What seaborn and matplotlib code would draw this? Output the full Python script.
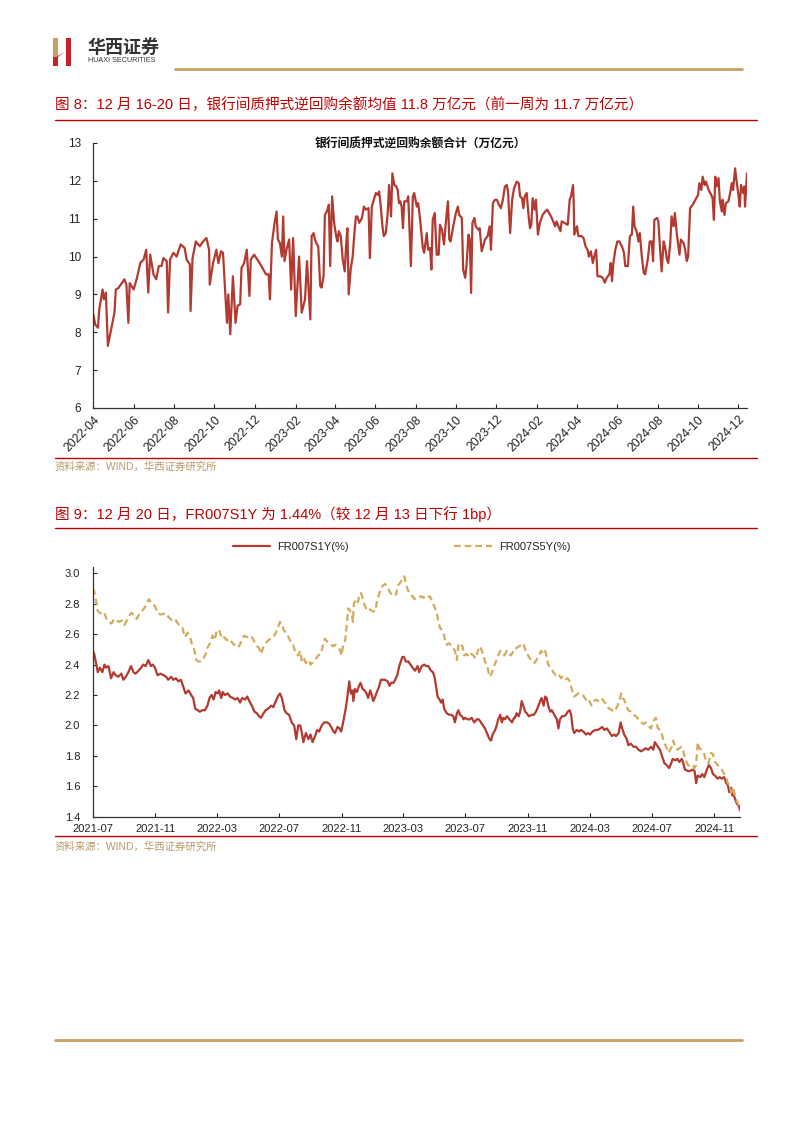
import matplotlib
matplotlib.use("Agg")
import matplotlib.pyplot as plt
import matplotlib.dates as mdates
from matplotlib.patches import Polygon, Rectangle
from matplotlib.lines import Line2D
import seaborn as sns
import pandas as pd

# 图8：银行间质押式逆回购余额合计（万亿元），横轴为距 2022-04-01 的天数
repo_start = "2022-04-01"
repo_day = [
    0, 3, 7, 9, 14, 16, 19, 22, 32, 34, 38, 43, 47, 50, 53, 55, 61, 66, 71, 76,
    80, 83, 86, 91, 95, 99, 103, 106, 111, 113, 116, 121, 126, 132, 138, 141, 146, 147, 150, 155,
    161, 166, 171, 175, 176, 181, 186, 189, 193, 196, 198, 202, 204, 207, 211, 215, 218, 222, 224, 228,
    232, 236, 238, 243, 248, 254, 261, 265, 267, 270, 274, 277, 279, 282, 285, 287, 289, 292, 296, 299,
    302, 306, 311, 315, 320, 323, 328,
    330, 333, 335, 338, 340, 343, 345, 348, 350, 353, 356, 358, 361, 364, 367, 369, 371, 374, 377, 380,
    382, 384, 386, 389, 392, 395, 397, 399, 402, 406, 409, 412, 416, 418, 421, 424, 427, 430, 432, 434,
    437, 439, 442, 445, 447, 450, 452, 455, 458, 460, 462, 464, 466, 468, 470, 474, 476, 480, 483, 485,
    489, 491, 494, 498, 500, 504, 506, 509, 511, 513, 516, 519, 522, 524, 527, 530, 533, 536, 538, 540,
    544, 548, 551, 553, 557, 559, 562, 564, 567, 569, 571, 573, 576, 578, 582, 584, 587, 590, 592, 596,
    599, 601, 604, 607, 610, 613, 616, 619, 622, 625, 627, 630, 633, 636,
    640, 643, 645, 648, 650, 652, 655, 658, 660, 662, 664, 667, 669, 672, 675, 679, 683, 686, 689, 693,
    695, 698, 700, 703, 706, 708, 712, 717, 720, 722, 725, 726, 727, 731, 733, 738, 741, 744, 747, 749,
    752, 755, 757, 760, 762, 766, 770, 773, 776, 780, 782, 784, 786, 789, 792, 795, 799, 802, 804, 808,
    811, 814, 816, 818, 821, 824, 826, 829, 832, 834, 838, 841, 844, 846, 848, 852, 854, 857, 859, 862,
    864, 867, 869, 872, 874, 877, 879, 882, 884, 886, 888, 892, 894, 897, 899, 902, 906, 910, 914, 916,
    919, 921, 924, 926, 930, 934, 936, 938, 940, 942, 945, 947, 950, 951, 954, 956, 960, 962, 965, 967,
    970, 972, 975, 977, 979, 982, 984, 985, 988,
]
repo_val = [
    8.47, 8.2, 8.12, 8.6, 9.13, 8.87, 9.05, 7.64, 8.52, 9.13, 9.17, 9.3, 9.4, 9.26, 8.25, 9.3, 9.13, 9.44, 9.83, 9.92,
    10.18, 9.05, 10.05, 9.53, 9.4, 9.75, 9.75, 9.96, 9.88, 8.52, 9.92, 10.1, 10.0, 10.32, 10.23, 9.92, 9.79, 8.56, 9.96, 10.4,
    10.27, 10.4, 10.49, 10.18, 9.26, 9.83, 10.18, 9.83, 10.14, 10.1, 9.48, 8.25, 9.0, 7.95, 9.48, 8.25, 8.7, 8.74, 9.7, 9.83,
    10.18, 8.96, 9.92, 10.05, 9.92, 9.75, 9.53, 9.53, 8.87, 10.36, 10.89, 11.19, 10.45, 10.36, 10.0, 11.06, 9.88, 10.18, 10.45, 9.13,
    10.49, 8.43, 10.0, 8.52, 8.87, 9.88, 8.34,
    10.54, 10.62, 10.45, 10.32, 10.27, 9.22, 9.18, 9.48, 11.1, 11.19, 11.37, 9.75, 11.59, 10.89, 10.54, 10.4, 10.67, 10.54, 9.92, 9.61,
    10.27, 10.75, 9.0, 9.66, 10.0, 10.71, 11.06, 11.06, 10.89, 11.02, 11.32, 11.24, 11.28, 9.96, 11.32, 11.5, 11.68, 11.63, 11.72, 11.41,
    10.8, 10.54, 10.62, 11.15, 11.89, 11.06, 12.2, 11.89, 11.85, 11.76, 11.41, 11.46, 11.32, 10.75, 11.46, 11.46, 11.59, 9.75, 11.59, 11.68,
    11.32, 11.41, 10.97, 10.23, 10.1, 10.62, 10.18, 10.23, 9.66, 10.97, 11.15, 10.05, 10.05, 10.84, 10.71, 10.32, 10.93, 11.46, 10.45, 10.4,
    10.8, 11.15, 11.32, 11.1, 11.02, 9.66, 9.44, 9.75, 10.58, 10.45, 9.04, 10.89, 11.02, 10.8, 10.71, 10.75, 10.14, 10.32, 10.45, 10.54,
    10.8, 10.18, 11.41, 11.5, 11.5, 11.37, 11.28, 11.5, 11.85, 11.89, 11.68, 10.62, 11.5, 11.81,
    11.98, 11.94, 11.59, 11.54, 11.28, 11.59, 11.68, 11.06, 10.75, 10.84, 11.54, 11.24, 11.5, 10.58, 10.89, 11.1, 11.19, 11.24, 11.15, 11.02,
    10.93, 10.8, 10.93, 10.8, 10.67, 10.93, 10.89, 10.84, 11.5, 11.59, 11.89, 11.5, 10.58, 10.8, 10.54, 10.54, 10.49, 10.27, 10.18, 10.0,
    10.14, 9.83, 10.0, 10.18, 9.48, 9.48, 9.44, 9.31, 9.44, 9.53, 9.83, 9.35, 9.83, 10.18, 10.4, 10.4, 10.27, 10.1, 9.75, 9.75,
    10.54, 10.58, 11.32, 10.8, 10.67, 10.4, 10.62, 10.0, 9.57, 9.53, 9.92, 10.4, 10.4, 9.88, 10.97, 11.02, 10.93, 10.1, 9.61, 10.4,
    10.27, 9.92, 9.83, 10.36, 11.06, 10.8, 11.15, 10.58, 10.32, 10.05, 10.45, 10.36, 10.23, 9.88, 10.0, 11.28, 11.37, 11.5, 11.63, 11.94,
    11.76, 12.11, 11.89, 11.98, 11.76, 11.63, 11.54, 10.97, 12.11, 11.85, 12.07, 11.46, 11.19, 11.5, 11.1, 11.41, 11.46, 11.63, 11.94, 11.76,
    12.33, 12.03, 11.63, 11.32, 11.89, 11.68, 11.85, 11.32, 12.2,
]

# 图9：FR007 互换利率（%），横轴为距 2021-07-01 的天数
fr_start = "2021-07-01"
s1y_day = [
    0, 3, 6, 10, 14, 19, 23, 26, 31, 36, 41, 45, 50, 56, 60, 65, 70, 75, 80, 84,
    90, 95, 99, 104, 109, 114, 118, 122, 127, 133, 139, 144, 148, 154, 158, 163, 168, 173, 178, 182,
    188, 193, 197, 201, 206, 210, 215, 220, 225, 229, 233, 237, 241, 245, 248, 252, 255, 259, 265, 269,
    275, 279, 284, 289, 293, 299, 303, 307, 312, 317, 322, 326, 330, 335, 339, 344, 350, 354, 359, 363,
    367, 371, 376, 380, 385, 390, 395, 399, 403,
    407, 410, 413, 418, 423, 427, 431, 436, 440, 444, 449, 454, 459, 464, 469, 472, 475, 480, 484, 487,
    491, 496, 499, 503, 506, 509, 511, 514, 518, 522, 525, 529, 533, 537, 540, 544, 547, 550, 554, 557,
    561, 565, 569, 573, 578, 582, 585, 590, 593, 597, 601, 604, 607, 610, 614, 619, 623, 627, 632, 637,
    640, 645, 650, 654, 658, 663, 667, 670, 673, 676, 680, 683, 686, 689, 694, 699, 703, 707, 710, 714,
    717, 720, 724, 727, 730, 735, 739, 743, 748, 753, 757, 761, 765, 769, 774, 778, 781, 784, 789, 792,
    795, 799, 802, 805, 808, 812, 817, 822, 826,
    828, 831, 835, 838, 841, 844, 848, 851, 855, 861, 865, 869, 874, 877, 880, 884, 887, 890, 893, 897,
    900, 905, 910, 913, 916, 920, 924, 928, 931, 935, 938, 941, 944, 949, 954, 957, 962, 967, 971, 975,
    980, 985, 990, 995, 999, 1003, 1008, 1012, 1018, 1022, 1026, 1031, 1035, 1038, 1042, 1047, 1050, 1055, 1060, 1065,
    1070, 1075, 1080, 1084, 1089, 1095, 1099, 1102, 1108, 1112, 1117, 1121, 1125, 1130, 1134, 1137, 1142, 1146, 1150, 1155,
    1158, 1161, 1167, 1171, 1176, 1180, 1183, 1186, 1191, 1195, 1199, 1204, 1208, 1212, 1216, 1220, 1225, 1229, 1233, 1238,
    1242, 1245, 1248, 1252, 1254, 1257, 1261, 1264, 1267, 1269,
]
s1y_val = [
    2.49, 2.47, 2.42, 2.35, 2.38, 2.35, 2.40, 2.38, 2.39, 2.31, 2.35, 2.33, 2.32, 2.34, 2.30, 2.32, 2.35, 2.39, 2.35, 2.34,
    2.36, 2.38, 2.40, 2.39, 2.43, 2.39, 2.40, 2.38, 2.33, 2.34, 2.33, 2.32, 2.30, 2.32, 2.30, 2.31, 2.29, 2.30, 2.25, 2.21,
    2.23, 2.20, 2.18, 2.11, 2.10, 2.09, 2.10, 2.10, 2.13, 2.18, 2.20, 2.17, 2.22, 2.21, 2.23, 2.18, 2.22, 2.20, 2.21, 2.19,
    2.18, 2.17, 2.18, 2.15, 2.18, 2.17, 2.19, 2.16, 2.13, 2.09, 2.08, 2.06, 2.05, 2.08, 2.10, 2.11, 2.13, 2.12, 2.16, 2.19,
    2.21, 2.18, 2.10, 2.08, 2.07, 2.02, 2.00, 1.91, 2.00,
    2.00, 1.95, 1.89, 1.95, 1.91, 1.94, 1.89, 1.93, 1.97, 1.96, 2.00, 2.02, 2.02, 2.01, 1.98, 1.96, 1.95, 1.99, 1.98, 1.96,
    2.02, 2.11, 2.18, 2.29, 2.21, 2.23, 2.16, 2.24, 2.22, 2.26, 2.28, 2.24, 2.23, 2.21, 2.18, 2.23, 2.20, 2.16, 2.19, 2.22,
    2.25, 2.30, 2.30, 2.30, 2.29, 2.26, 2.28, 2.28, 2.30, 2.33, 2.39, 2.42, 2.45, 2.45, 2.42, 2.42, 2.40, 2.38, 2.36, 2.39,
    2.35, 2.39, 2.40, 2.39, 2.39, 2.36, 2.35, 2.32, 2.26, 2.19, 2.17, 2.15, 2.17, 2.11, 2.08, 2.07, 2.07, 2.06, 2.02, 2.08,
    2.10, 2.07, 2.06, 2.04, 2.05, 2.04, 2.04, 2.05, 2.02, 2.04, 2.04, 2.02, 2.00, 1.98, 1.94, 1.91, 1.90, 1.94, 1.97, 2.00,
    2.04, 2.07, 2.02, 2.05, 2.04, 2.06, 2.04, 2.02, 2.05,
    2.05, 2.08, 2.06, 2.09, 2.16, 2.13, 2.09, 2.08, 2.06, 2.07, 2.07, 2.09, 2.13, 2.16, 2.18, 2.13, 2.19, 2.18, 2.13, 2.09,
    2.10, 2.07, 2.04, 1.98, 2.04, 2.06, 2.06, 2.07, 2.09, 2.10, 2.07, 1.98, 1.95, 1.97, 1.96, 1.97, 1.96, 1.94, 1.95, 1.94,
    1.96, 1.97, 1.97, 1.98, 1.99, 1.97, 1.98, 1.96, 1.93, 1.94, 1.93, 1.95, 2.02, 1.98, 1.94, 1.91, 1.87, 1.88, 1.86, 1.86,
    1.84, 1.83, 1.84, 1.85, 1.84, 1.86, 1.84, 1.89, 1.86, 1.84, 1.79, 1.75, 1.74, 1.72, 1.75, 1.78, 1.77, 1.78, 1.76, 1.78,
    1.75, 1.71, 1.70, 1.70, 1.71, 1.70, 1.62, 1.67, 1.66, 1.68, 1.66, 1.71, 1.74, 1.72, 1.68, 1.67, 1.65, 1.66, 1.65, 1.66,
    1.62, 1.61, 1.56, 1.59, 1.54, 1.54, 1.50, 1.48, 1.47, 1.44,
]
s5y_day = [
    0, 3, 7, 10, 14, 19, 23, 27, 32, 37, 42, 47, 52, 57, 62, 67, 71, 76, 82, 86,
    91, 96, 101, 106, 110, 114, 119, 124, 127, 132, 137, 142, 147, 152, 156, 161, 167, 171, 176, 181,
    186, 191, 194, 199, 203, 207, 212, 217, 222, 225, 230, 235, 239, 243, 248, 253, 258, 263, 267, 272,
    277, 282, 287, 292, 297, 302, 306, 312, 317, 322, 326, 330, 335, 339, 344, 350, 354, 359, 363, 367,
    371, 374, 378, 384, 389, 393, 398, 403,
    407, 410, 414, 418, 423, 427, 433, 438, 442, 447, 451, 455, 460, 465, 471, 475, 480, 484, 488, 491,
    495, 498, 501, 505, 508, 510, 512, 516, 520, 523, 526, 529, 533, 536, 539, 544, 549, 554, 557, 561,
    565, 569, 573, 578, 582, 586, 591, 595, 598, 601, 605, 608, 611, 614, 618, 622, 627, 631, 635, 640,
    644, 648, 653, 657, 661, 666, 670, 675, 678, 681, 684, 688, 691, 694, 699, 703, 707, 710, 714, 717,
    720, 725, 728, 733, 738, 742, 746, 751, 755, 759, 763, 766, 769, 773, 776, 779, 782, 786, 789, 792,
    795, 799, 803, 807, 812, 816, 820, 825,
    828, 831, 836, 840, 844, 848, 852, 857, 862, 866, 870, 875, 879, 884, 887, 890, 893, 898, 903, 908,
    913, 918, 921, 926, 931, 935, 939, 944, 948, 952, 957, 961, 965, 970, 974, 978, 983, 987, 991, 996,
    1000, 1004, 1009, 1013, 1018, 1022, 1026, 1029, 1033, 1036, 1038, 1042, 1046, 1050, 1055, 1060, 1065, 1070, 1075, 1080,
    1084, 1089, 1094, 1098, 1101, 1104, 1108, 1112, 1116, 1120, 1124, 1129, 1132, 1135, 1138, 1142, 1146, 1150, 1155, 1158,
    1161, 1167, 1171, 1176, 1180, 1183, 1186, 1189, 1194, 1199, 1202, 1207, 1212, 1216, 1220, 1225, 1229, 1233, 1238, 1242,
    1245, 1248, 1252, 1256, 1259, 1263, 1266, 1269,
]
s5y_val = [
    2.90, 2.88, 2.81, 2.75, 2.74, 2.73, 2.74, 2.70, 2.68, 2.67, 2.70, 2.69, 2.68, 2.69, 2.66, 2.69, 2.72, 2.74, 2.72, 2.70,
    2.73, 2.75, 2.77, 2.80, 2.83, 2.81, 2.80, 2.77, 2.74, 2.73, 2.73, 2.74, 2.72, 2.70, 2.69, 2.70, 2.67, 2.65, 2.64, 2.58,
    2.61, 2.58, 2.54, 2.50, 2.43, 2.42, 2.42, 2.44, 2.47, 2.51, 2.54, 2.59, 2.56, 2.62, 2.63, 2.57, 2.58, 2.56, 2.57, 2.55,
    2.53, 2.54, 2.52, 2.56, 2.59, 2.58, 2.59, 2.58, 2.55, 2.52, 2.51, 2.47, 2.52, 2.54, 2.56, 2.57, 2.58, 2.61, 2.64, 2.68,
    2.67, 2.63, 2.61, 2.58, 2.54, 2.53, 2.47, 2.46,
    2.49, 2.42, 2.44, 2.41, 2.43, 2.40, 2.42, 2.44, 2.46, 2.47, 2.52, 2.57, 2.55, 2.54, 2.52, 2.53, 2.52, 2.50, 2.46, 2.53,
    2.56, 2.66, 2.77, 2.75, 2.74, 2.68, 2.80, 2.83, 2.81, 2.86, 2.87, 2.84, 2.79, 2.77, 2.78, 2.76, 2.75, 2.75, 2.81, 2.86,
    2.90, 2.92, 2.93, 2.91, 2.88, 2.86, 2.87, 2.86, 2.92, 2.93, 2.95, 2.97, 2.98, 2.93, 2.89, 2.86, 2.85, 2.83, 2.84, 2.84,
    2.85, 2.84, 2.85, 2.84, 2.85, 2.81, 2.78, 2.73, 2.68, 2.64, 2.63, 2.61, 2.55, 2.53, 2.54, 2.52, 2.51, 2.49, 2.43, 2.54,
    2.53, 2.52, 2.46, 2.47, 2.45, 2.47, 2.46, 2.44, 2.49, 2.52, 2.49, 2.46, 2.42, 2.40, 2.35, 2.32, 2.34, 2.38, 2.41, 2.43,
    2.46, 2.49, 2.47, 2.46, 2.49, 2.47, 2.46, 2.49,
    2.49, 2.51, 2.52, 2.53, 2.54, 2.50, 2.47, 2.44, 2.42, 2.41, 2.43, 2.46, 2.49, 2.47, 2.49, 2.45, 2.40, 2.38, 2.35, 2.33,
    2.34, 2.31, 2.32, 2.30, 2.31, 2.29, 2.24, 2.19, 2.20, 2.21, 2.21, 2.20, 2.18, 2.15, 2.16, 2.13, 2.16, 2.17, 2.16, 2.18,
    2.17, 2.15, 2.12, 2.11, 2.10, 2.09, 2.11, 2.13, 2.17, 2.21, 2.18, 2.17, 2.13, 2.10, 2.09, 2.07, 2.06, 2.04, 2.02, 2.01,
    2.02, 2.00, 1.98, 2.01, 2.04, 2.05, 1.98, 1.97, 1.94, 1.89, 1.86, 1.82, 1.84, 1.86, 1.90, 1.86, 1.84, 1.85, 1.86, 1.83,
    1.78, 1.74, 1.73, 1.74, 1.72, 1.74, 1.89, 1.85, 1.84, 1.81, 1.77, 1.75, 1.82, 1.81, 1.76, 1.74, 1.72, 1.71, 1.68, 1.66,
    1.62, 1.61, 1.56, 1.59, 1.54, 1.50, 1.48, 1.44,
]

repo_ticks = ["2022-%02d" % m for m in (4, 6, 8, 10, 12)] + \
             ["2023-%02d" % m for m in (2, 4, 6, 8, 10, 12)] + \
             ["2024-%02d" % m for m in (2, 4, 6, 8, 10, 12)]
fr_ticks = ["2021-07", "2021-11", "2022-03", "2022-07", "2022-11", "2023-03",
            "2023-07", "2023-11", "2024-03", "2024-07", "2024-11"]

RED = "#C00000"
LINE_RED = "#B23A30"
GOLD = "#D5AA5C"
TAN = "#C8A064"
SRC = "#B8996A"

sns.set_style("ticks")
plt.rcParams["font.family"] = ["Liberation Sans", "Noto Sans CJK SC", "DejaVu Sans"]
plt.rcParams["axes.unicode_minus"] = False

W, H = 802, 1133
fig = plt.figure(figsize=(W / 100, H / 100), dpi=100)


def fx(px):
    return px / W


def fy(py):
    return 1 - py / H


def hline(y, x0, x1, color, lw):
    fig.add_artist(Line2D([fx(x0), fx(x1)], [fy(y), fy(y)], color=color, lw=lw,
                          transform=fig.transFigure))


# 页眉 logo
logo = fig.add_axes([fx(52), fy(66), fx(20), 29 / H])
logo.set_xlim(0, 20)
logo.set_ylim(0, 29)
logo.axis("off")
logo.add_patch(Rectangle((1, 9), 5, 19, color=TAN, lw=0))
logo.add_patch(Rectangle((1, 0), 5, 9, color="#C8202A", lw=0))
logo.add_patch(Rectangle((13.5, 0), 5.5, 28, color="#C8202A", lw=0))
logo.add_patch(Polygon([(1, 7), (6, 9), (19, 19), (14, 15)], closed=True, color="#C8202A", lw=0))
fig.text(fx(88), fy(47), "华西证券", fontsize=13, color="#333333", fontweight="bold",
         va="center", ha="left", family=["Noto Sans CJK SC"])
fig.text(fx(88), fy(61), "HUAXI SECURITIES", fontsize=5.2, color="#333333", va="center", ha="left")
hline(69, 175, 742, TAN, 2.0)

# 图8 标题
fig.text(fx(55), fy(105), "图 8：12 月 16-20 日，银行间质押式逆回购余额均值 11.8 万亿元（前一周为 11.7 万亿元）",
         fontsize=10.5, color=RED, va="center", ha="left")
hline(120, 55, 757, RED, 1.0)

ax1 = fig.add_axes([fx(93.3), fy(408), fx(747 - 93.3), (408 - 143) / H])
df1 = pd.DataFrame({"date": pd.Timestamp(repo_start) + pd.to_timedelta(repo_day, unit="D"),
                    "value": repo_val})
sns.lineplot(data=df1, x="date", y="value", ax=ax1, estimator=None, color=LINE_RED, lw=1.6)
ax1.set_xlim(pd.Timestamp(repo_start), df1["date"].max())
ax1.set_ylim(6, 13)
ax1.set_yticks(range(6, 14))
ax1.set_xticks(pd.to_datetime(repo_ticks))
ax1.xaxis.set_major_formatter(mdates.DateFormatter("%Y-%m"))
ax1.set_xlabel("")
ax1.set_ylabel("")
for lab in ax1.get_xticklabels():
    lab.set_rotation(45)
    lab.set_ha("right")
    lab.set_rotation_mode("anchor")
ax1.tick_params(axis="x", direction="in", length=3, labelsize=8.8, pad=4, colors="#222222")
ax1.tick_params(axis="y", direction="in", length=3, labelsize=8.5, pad=9, colors="#222222")
sns.despine(ax=ax1)
for sp in ("left", "bottom"):
    ax1.spines[sp].set_color("#333333")
    ax1.spines[sp].set_linewidth(0.9)
ax1.text(0.5, 0.992, "银行间质押式逆回购余额合计（万亿元）", transform=ax1.transAxes,
         ha="center", va="center", fontsize=8.5, fontweight="bold", color="#111111")

hline(458, 55, 757, RED, 1.0)
fig.text(fx(55), fy(467), "资料来源：WIND，华西证券研究所", fontsize=7.5, color=SRC, va="center", ha="left")

# 图9 标题
fig.text(fx(55), fy(514), "图 9：12 月 20 日，FR007S1Y 为 1.44%（较 12 月 13 日下行 1bp）",
         fontsize=10.5, color=RED, va="center", ha="left")
hline(528, 55, 757, RED, 1.0)

ax2 = fig.add_axes([fx(92.7), fy(816.7), fx(740 - 92.7), (816.7 - 567.2) / H])
d0 = pd.Timestamp(fr_start)
df_s1 = pd.DataFrame({"date": d0 + pd.to_timedelta(s1y_day, unit="D"), "value": s1y_val})
df_s5 = pd.DataFrame({"date": d0 + pd.to_timedelta(s5y_day, unit="D"), "value": s5y_val})
sns.lineplot(data=df_s1, x="date", y="value", ax=ax2, estimator=None, color=LINE_RED,
             lw=1.6, label="FR007S1Y(%)")
sns.lineplot(data=df_s5, x="date", y="value", ax=ax2, estimator=None, color=GOLD,
             lw=1.6, linestyle=(0, (3, 1.8)), label="FR007S5Y(%)")
ax2.set_xlim(d0, df_s1["date"].max())
ax2.set_ylim(1.4, 3.04)
ax2.set_yticks([1.4, 1.6, 1.8, 2.0, 2.2, 2.4, 2.6, 2.8, 3.0])
ax2.yaxis.set_major_formatter(plt.FormatStrFormatter("%.1f"))
ax2.set_xticks(pd.to_datetime(fr_ticks))
ax2.xaxis.set_major_formatter(mdates.DateFormatter("%Y-%m"))
ax2.set_xlabel("")
ax2.set_ylabel("")
ax2.tick_params(axis="x", direction="in", length=3, labelsize=8, pad=5, colors="#222222")
ax2.tick_params(axis="y", direction="in", length=3, labelsize=8, pad=9, colors="#222222")
sns.despine(ax=ax2)
for sp in ("left", "bottom"):
    ax2.spines[sp].set_color("#333333")
    ax2.spines[sp].set_linewidth(0.9)
ax2.legend(loc="center", bbox_to_anchor=(0.477, 1.081), ncol=2, frameon=False, fontsize=8,
           handlelength=3.4, handletextpad=0.6, columnspacing=9.5)

hline(836, 55, 757, RED, 1.0)
fig.text(fx(55), fy(847), "资料来源：WIND，华西证券研究所", fontsize=7.5, color=SRC, va="center", ha="left")

# 页脚
hline(1040, 55, 742, TAN, 2.0)

fig.savefig("out.png", dpi=100)
